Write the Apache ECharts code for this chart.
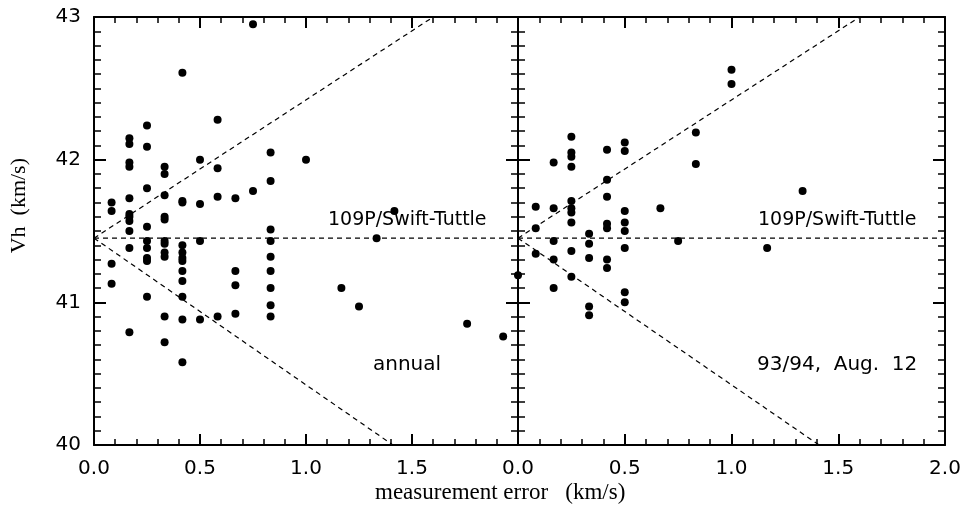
<!DOCTYPE html>
<html>
<head>
<meta charset="utf-8">
<script src="https://cdn.jsdelivr.net/npm/echarts@6/dist/echarts.min.js"></script>
<style>
html, body { margin: 0; background: #fff; }
#chart { width: 970px; height: 513px; }
</style>
</head>
<body>
<div id="chart"></div>
<script>
// measurement error (km/s), Vh (km/s) -- left panel: annual
var annualPoints = [
    [0.083, 41.70], [0.083, 41.64], [0.083, 41.27], [0.083, 41.13],
    [0.167, 42.15], [0.167, 42.11], [0.167, 41.98], [0.167, 41.95], [0.167, 41.73], [0.167, 41.62],
    [0.167, 41.60], [0.167, 41.57], [0.167, 41.50], [0.167, 41.38], [0.167, 40.79],
    [0.25, 42.24], [0.25, 42.09], [0.25, 41.80], [0.25, 41.53], [0.25, 41.43], [0.25, 41.38],
    [0.25, 41.31], [0.25, 41.29], [0.25, 41.04],
    [0.333, 41.95], [0.333, 41.90], [0.333, 41.75], [0.333, 41.60], [0.333, 41.58], [0.333, 41.43],
    [0.333, 41.41], [0.333, 41.35], [0.333, 41.32], [0.333, 40.90], [0.333, 40.72],
    [0.417, 42.61], [0.417, 41.71], [0.417, 41.70], [0.417, 41.40], [0.417, 41.35], [0.417, 41.31],
    [0.417, 41.29], [0.417, 41.22], [0.417, 41.15], [0.417, 41.04], [0.417, 40.88], [0.417, 40.58],
    [0.5, 42.00], [0.5, 41.69], [0.5, 41.43], [0.5, 40.88],
    [0.583, 42.28], [0.583, 41.94], [0.583, 41.74], [0.583, 40.90],
    [0.667, 41.73], [0.667, 41.22], [0.667, 41.12], [0.667, 40.92],
    [0.75, 42.95], [0.75, 41.78],
    [0.833, 42.05], [0.833, 41.85], [0.833, 41.51], [0.833, 41.43], [0.833, 41.32], [0.833, 41.22],
    [0.833, 41.10], [0.833, 40.98], [0.833, 40.90],
    [1.0, 42.00], [1.167, 41.10], [1.25, 40.97], [1.333, 41.45], [1.417, 41.64],
    [1.76, 40.85], [1.93, 40.76]
];

// right panel: 93/94, Aug. 12
var aug12Points = [
    [0.0, 41.19],
    [0.083, 41.67], [0.083, 41.52], [0.083, 41.34],
    [0.167, 41.98], [0.167, 41.66], [0.167, 41.43], [0.167, 41.30], [0.167, 41.10],
    [0.25, 42.16], [0.25, 42.05], [0.25, 42.02], [0.25, 41.95], [0.25, 41.71], [0.25, 41.66],
    [0.25, 41.63], [0.25, 41.56], [0.25, 41.36], [0.25, 41.18],
    [0.333, 41.48], [0.333, 41.41], [0.333, 41.31], [0.333, 40.97], [0.333, 40.91],
    [0.417, 42.07], [0.417, 41.86], [0.417, 41.74], [0.417, 41.55], [0.417, 41.52], [0.417, 41.30], [0.417, 41.24],
    [0.5, 42.12], [0.5, 42.06], [0.5, 41.64], [0.5, 41.56], [0.5, 41.50], [0.5, 41.38], [0.5, 41.07], [0.5, 41.00],
    [0.667, 41.66], [0.75, 41.43],
    [0.833, 42.19], [0.833, 41.97],
    [1.0, 42.63], [1.0, 42.53],
    [1.167, 41.38], [1.333, 41.78]
];

var swiftTuttleLine = [[0, 41.45], [2, 41.45]];
var upperEnvelope = [[0, 41.45], [1.6, 43]];
var lowerEnvelope = [[0, 41.45], [1.41, 40]];

var xMin = 0, xMax = 2, xStep = 0.5;
var yMin = 40, yMax = 43, yStep = 1;

var tickFont = 'DejaVu Sans';

function xAxisFor(grid, pos, showLabels, showLast) {
    return {
        type: 'value', gridIndex: grid, position: pos,
        min: xMin, max: xMax, interval: xStep,
        axisLine: { show: true, onZero: false, lineStyle: { color: '#000', width: 2 } },
        axisTick: { show: true, inside: true, length: 11, lineStyle: { color: '#000', width: 2 } },
        minorTick: { show: true, splitNumber: 5, length: 6, lineStyle: { color: '#000', width: 1.5 } },
        splitLine: { show: false },
        axisLabel: {
            show: showLabels, margin: 14, color: '#000', fontSize: 20,
            fontFamily: tickFont, showMaxLabel: showLast,
            formatter: function (v) { return v.toFixed(1); }
        }
    };
}

function yAxisFor(grid, pos, showLabels) {
    return {
        type: 'value', gridIndex: grid, position: pos,
        min: yMin, max: yMax, interval: yStep,
        axisLine: { show: true, onZero: false, lineStyle: { color: '#000', width: 2 } },
        axisTick: { show: true, inside: true, length: 12, lineStyle: { color: '#000', width: 2 } },
        minorTick: { show: true, splitNumber: 10, length: 7, lineStyle: { color: '#000', width: 1.5 } },
        splitLine: { show: false },
        axisLabel: { show: showLabels, margin: 13, color: '#000', fontSize: 20, fontFamily: tickFont }
    };
}

function dashed(data, xi, yi) {
    return {
        type: 'line', data: data, xAxisIndex: xi, yAxisIndex: yi,
        symbol: 'none', silent: true,
        lineStyle: { color: '#000', width: 1.2, type: [5, 4] }
    };
}

function dots(data, xi, yi) {
    return {
        type: 'scatter', data: data, xAxisIndex: xi, yAxisIndex: yi,
        symbolSize: 8, itemStyle: { color: '#000', opacity: 1 }
    };
}

var option = {
    animation: false,
    backgroundColor: '#fff',
    grid: [
        { left: 94, top: 17, width: 424, height: 428 },
        { left: 518, top: 17, width: 427, height: 428 }
    ],
    xAxis: [
        xAxisFor(0, 'bottom', true, false),
        xAxisFor(0, 'top', false, false),
        xAxisFor(1, 'bottom', true, true),
        xAxisFor(1, 'top', false, false)
    ],
    yAxis: [
        yAxisFor(0, 'left', true),
        yAxisFor(0, 'right', false),
        yAxisFor(1, 'left', false),
        yAxisFor(1, 'right', false)
    ],
    series: [
        dashed(swiftTuttleLine, 0, 0),
        dashed(upperEnvelope, 0, 0),
        dashed(lowerEnvelope, 0, 0),
        dots(annualPoints, 0, 0),
        dashed(swiftTuttleLine, 2, 2),
        dashed(upperEnvelope, 2, 2),
        dashed(lowerEnvelope, 2, 2),
        dots(aug12Points, 2, 2)
    ],
    graphic: [
        { type: 'text', left: 328, top: 211, style: { text: '109P/Swift-Tuttle', font: '19px "DejaVu Sans"', fill: '#000' } },
        { type: 'text', left: 373, top: 355, style: { text: 'annual', font: '20px "DejaVu Sans"', fill: '#000' } },
        { type: 'text', left: 758, top: 211, style: { text: '109P/Swift-Tuttle', font: '19px "DejaVu Sans"', fill: '#000' } },
        { type: 'text', left: 757, top: 355, style: { text: '93/94,  Aug.  12', font: '20px "DejaVu Sans"', fill: '#000' } },
        { type: 'text', left: 375, top: 481, style: { text: 'measurement error   (km/s)', font: '23px "Liberation Serif"', fill: '#000' } },
        { type: 'text', left: 8, top: 158, rotation: Math.PI / 2, style: { text: 'Vh  (km/s)', font: '22px "Liberation Serif"', fill: '#000' } }
    ]
};

var chart = echarts.init(document.getElementById('chart'));
chart.setOption(option);
</script>
</body>
</html>
